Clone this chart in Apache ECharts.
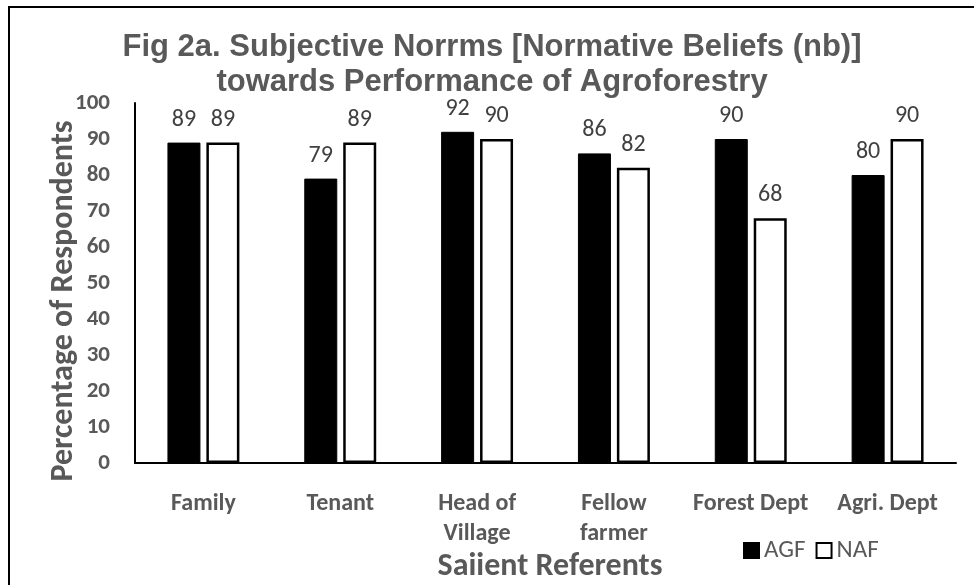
<!DOCTYPE html>
<html><head><meta charset="utf-8">
<script src="https://cdn.jsdelivr.net/npm/echarts@6/dist/echarts.min.js"></script>
<style>html,body{margin:0;padding:0;background:#fff}#c{width:974px;height:585px}</style>
</head><body><div id="c"></div>
<script>
const categories = ['Family', 'Tenant', 'Head of\nVillage', 'Fellow\nfarmer', 'Forest Dept', 'Agri. Dept'];
const agf = [89, 79, 92, 86, 90, 80];
const naf = [89, 89, 90, 82, 68, 90];
const yTicks = [0, 10, 20, 30, 40, 50, 60, 70, 80, 90, 100];
const titleLines = ['Fig 2a. Subjective Norrms [Normative Beliefs (nb)]', 'towards Performance of Agroforestry'];
const xName = 'Saiient Referents';
const yName = 'Percentage of Respondents';

const F = 'Carlito, Calibri, Lato, sans-serif';
const gray = '#595959';
const chart = echarts.init(document.getElementById('c'));
chart.setOption({
  animation: false,
  title: [
    {text: titleLines.join('\n'), left: 487, textAlign: 'center', top: 25, padding: 5,
     textStyle: {fontFamily: 'Liberation Sans, Arial', fontWeight: 'bold', fontSize: 31, color: gray, lineHeight: 35}},
    {text: xName, left: 545, textAlign: 'center', top: 546,
     textStyle: {fontFamily: F, fontWeight: 'bold', fontSize: 32, color: gray}}
  ],
  graphic: [
    {type: 'polyline', shape: {points: [[9, 585], [9, 7], [974, 7]]}, style: {stroke: '#000', lineWidth: 2, fill: null}},
    {type: 'text', x: 64, y: 301, rotation: Math.PI / 2,
     style: {text: yName, font: 'bold 32px ' + F, fill: gray, align: 'center', verticalAlign: 'middle'}}
  ],
  legend: {left: 743, top: 538, padding: 0, itemWidth: 15, itemHeight: 15, itemGap: 10, icon: 'rect',
    textStyle: {fontFamily: F, fontSize: 25, color: gray},
    data: ['AGF', 'NAF']},
  grid: {left: 135, right: 18, top: 103, bottom: 122},
  xAxis: {type: 'category', data: categories,
    axisLine: {lineStyle: {color: '#000', width: 2}}, axisTick: {show: false},
    axisLabel: {margin: 26, fontFamily: F, fontWeight: 'bold', fontSize: 24, color: gray, lineHeight: 30, interval: 0}},
  yAxis: {type: 'value', min: 0, max: 100, interval: 10,
    axisLine: {show: true, lineStyle: {color: '#000', width: 2}}, axisTick: {show: false},
    splitLine: {show: false},
    axisLabel: {margin: 25, fontFamily: F, fontWeight: 'bold', fontSize: 23, color: gray,
      formatter: v => yTicks.includes(v) ? String(v) : ''}},
  series: [
    {name: 'AGF', type: 'bar', data: agf, barWidth: 33, barGap: '18%',
     itemStyle: {color: '#000', borderColor: '#000', borderWidth: 1},
     label: {show: true, position: 'top', distance: 11, fontFamily: F, fontSize: 24, color: '#404040'}},
    {name: 'NAF', type: 'bar', data: naf, barWidth: 33, barGap: '18%',
     itemStyle: {color: '#fff', borderColor: '#000', borderWidth: 2.5},
     label: {show: true, position: 'top', distance: 11, fontFamily: F, fontSize: 24, color: '#404040'}}
  ]
});
</script></body></html>
